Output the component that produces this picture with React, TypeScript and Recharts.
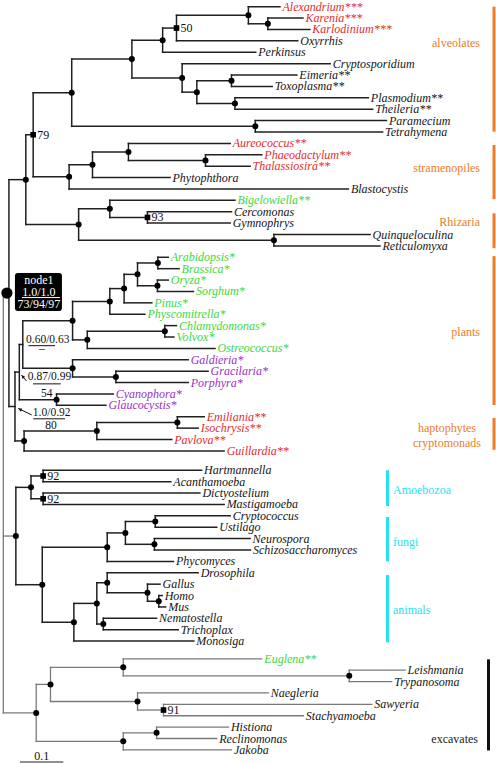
import { ReferenceLine, Scatter, ScatterChart, XAxis, YAxis } from "recharts";

// Tips, listed top to bottom.
const leafNames = [
  "Alexandrium", "Karenia", "Karlodinium", "Oxyrrhis", "Perkinsus", "Cryptosporidium",
  "Eimeria", "Toxoplasma", "Plasmodium", "Theileria", "Paramecium", "Tetrahymena",
  "Aureococcus", "Phaeodactylum", "Thalassiosira", "Phytophthora", "Blastocystis",
  "Bigelowiella", "Cercomonas", "Gymnophrys", "Quinqueloculina", "Reticulomyxa",
  "Arabidopsis", "Brassica", "Oryza", "Sorghum", "Pinus", "Physcomitrella",
  "Chlamydomonas", "Volvox", "Ostreococcus",
  "Galdieria", "Gracilaria", "Porphyra", "Cyanophora", "Glaucocystis",
  "Emiliania", "Isochrysis", "Pavlova", "Guillardia",
  "Hartmannella", "Acanthamoeba", "Dictyostelium", "Mastigamoeba",
  "Cryptococcus", "Ustilago", "Neurospora", "Schizosaccharomyces", "Phycomyces",
  "Drosophila", "Gallus", "Homo", "Mus", "Nematostella", "Trichoplax", "Monosiga",
  "Euglena", "Leishmania", "Trypanosoma", "Naegleria", "Sawyeria", "Stachyamoeba",
  "Histiona", "Reclinomonas", "Jakoba",
];

// distance from the root (substitutions/site) of each tip
const tipDepths = [
  0.639, 0.692, 0.708, 0.68, 0.583, 0.755, 0.678, 0.621, 0.843, 0.853, 0.885, 0.876,
  0.524, 0.597, 0.57, 0.385, 0.797,
  0.535, 0.527, 0.524, 0.847, 0.87,
  0.381, 0.406, 0.381, 0.439, 0.343, 0.327, 0.4, 0.394, 0.489,
  0.427, 0.473, 0.427, 0.254, 0.237,
  0.464, 0.45, 0.389, 0.51,
  0.458, 0.387, 0.454, 0.51,
  0.524, 0.493, 0.57, 0.571, 0.393,
  0.45, 0.362, 0.367, 0.375, 0.354, 0.404, 0.44,
  0.597, 0.928, 0.897, 0.612, 0.851, 0.693, 0.52, 0.493, 0.527,
];

// asterisks after each name
const tipStars = [
  3, 3, 3, 0, 0, 0, 2, 2, 2, 2, 0, 0,
  2, 2, 2, 0, 0,
  2, 0, 0, 0, 0,
  1, 1, 1, 1, 1, 1, 1, 1, 1,
  1, 1, 1, 1, 1,
  2, 2, 2, 2,
  0, 0, 0, 0,
  0, 0, 0, 0, 0,
  0, 0, 0, 0, 0, 0, 0,
  2, 0, 0, 0, 0, 0, 0, 0, 0,
];

// r = red, g = green, p = purple, k = black
const tipTints = "rrrkkkkkkkkkrrrkkgkkkkgggggggggppppprrrrkkkkkkkkkkkkkkkkgkkkkkkkk";

// [id, depth, children, bootstrap]; children come before their parents
type Clade = [string, number, string[], string?];
const clades: Clade[] = [
  ["dinoK", 0.611, ["Karenia", "Karlodinium"]],
  ["dino", 0.566, ["Alexandrium", "dinoK"]],
  ["dinoOx", 0.4, ["dino", "Oxyrrhis"], "50"],
  ["myzo", 0.368, ["dinoOx", "Perkinsus"]],
  ["cocc", 0.527, ["Eimeria", "Toxoplasma"]],
  ["piro", 0.535, ["Plasmodium", "Theileria"]],
  ["apiC", 0.447, ["cocc", "piro"]],
  ["api", 0.413, ["Cryptosporidium", "apiC"]],
  ["alvC", 0.297, ["myzo", "api"]],
  ["cil", 0.582, ["Paramecium", "Tetrahymena"]],
  ["alv", 0.158, ["alvC", "cil"]],
  ["diat", 0.467, ["Phaeodactylum", "Thalassiosira"]],
  ["ochro", 0.289, ["Aureococcus", "diat"]],
  ["strC", 0.206, ["ochro", "Phytophthora"]],
  ["str", 0.152, ["strC", "Blastocystis"]],
  ["sa", 0.069, ["alv", "str"], "79"],
  ["cerc", 0.333, ["Cercomonas", "Gymnophrys"], "93"],
  ["chlor", 0.246, ["Bigelowiella", "cerc"]],
  ["foram", 0.625, ["Quinqueloculina", "Reticulomyxa"]],
  ["rhiz", 0.174, ["chlor", "foram"]],
  ["sar", 0.052, ["sa", "rhiz"]],
  ["brass", 0.357, ["Arabidopsis", "Brassica"]],
  ["mono", 0.356, ["Oryza", "Sorghum"]],
  ["angio", 0.31, ["brass", "mono"]],
  ["seed", 0.279, ["angio", "Pinus"]],
  ["land", 0.246, ["seed", "Physcomitrella"]],
  ["volv", 0.373, ["Chlamydomonas", "Volvox"]],
  ["chloro", 0.194, ["volv", "Ostreococcus"]],
  ["green", 0.16, ["land", "chloro"]],
  ["gp", 0.26, ["Gracilaria", "Porphyra"]],
  ["red", 0.16, ["Galdieria", "gp"]],
  ["gr", 0.045, ["green", "red"]],
  ["glauco", 0.123, ["Cyanophora", "Glaucocystis"]],
  ["arch", 0.037, ["gr", "glauco"]],
  ["emil", 0.402, ["Emiliania", "Isochrysis"]],
  ["hapto", 0.216, ["emil", "Pavlova"]],
  ["hc", 0.048, ["hapto", "Guillardia"]],
  ["bik", 0.027, ["arch", "hc"]],
  ["node1", 0.013, ["sar", "bik"]],
  ["amA", 0.092, ["Hartmannella", "Acanthamoeba"], "92"],
  ["amB", 0.092, ["Dictyostelium", "Mastigamoeba"], "92"],
  ["amoeb", 0.064, ["amA", "amB"]],
  ["basid", 0.351, ["Cryptococcus", "Ustilago"]],
  ["asco", 0.349, ["Neurospora", "Schizosaccharomyces"]],
  ["dik", 0.282, ["basid", "asco"]],
  ["fungi", 0.24, ["dik", "Phycomyces"]],
  ["mamm", 0.359, ["Homo", "Mus"]],
  ["vert", 0.333, ["Gallus", "mamm"]],
  ["bilat", 0.24, ["Drosophila", "vert"]],
  ["nt", 0.231, ["Nematostella", "Trichoplax"]],
  ["meta", 0.216, ["bilat", "nt"]],
  ["holo", 0.163, ["meta", "Monosiga"]],
  ["opis", 0.09, ["fungi", "holo"]],
  ["uni", 0.029, ["amoeb", "opis"]],
  ["tryp", 0.799, ["Leishmania", "Trypanosoma"]],
  ["eugl", 0.277, ["Euglena", "tryp"]],
  ["saw", 0.37, ["Sawyeria", "Stachyamoeba"], "91"],
  ["hetl", 0.31, ["Naegleria", "saw"]],
  ["disc", 0.109, ["eugl", "hetl"]],
  ["hr", 0.354, ["Histiona", "Reclinomonas"]],
  ["jak", 0.277, ["hr", "Jakoba"]],
  ["exc", 0.076, ["disc", "jak"]],
  ["root", 0, ["node1", "uni", "exc"]],
];

// posterior / bootstrap notes drawn beside three deep nodes
const noteClades = ["gr", "arch", "bik"];
const notePosteriors = ["0.60/0.63", "0.87/0.99", "1.0/0.92"];
const noteBootstraps = ["\u2013", "54", "80"];

const groupNames = [
  "alveolates", "stramenopiles", "Rhizaria", "plants", "haptophytes\ncryptomonads",
  "Amoebozoa", "fungi", "animals", "excavates",
];
const groupKinds = ["o", "o", "o", "o", "o", "c", "c", "c", "k"];
const groupFirstRows = [0, 12.14, 18.14, 21.9, 36.1, 40.7, 44.8, 49.9, 57.3];
const groupLastRows = [10.97, 16.9, 21.2, 34.97, 38.9, 43.84, 48.7, 55.8, 65.3];
const groupLabelRows = [3.2, 14.2, 18.9, 28.6, 37.0, 42.4, 47.0, 53.0, 64.3];

// ---- layout ----
const W = 496;
const H = 764;
const PX_PER_UNIT = 433; // scale bar: 0.1 = 43.3px
const ROOT_PX = 3.3;
const ROW_PX = 11.39;
const TOP_PX = 6.7;
const toDepth = (px: number) => (px - ROOT_PX) / PX_PER_UNIT;
const toRow = (py: number) => (py - TOP_PX) / ROW_PX;
const xDomain = [toDepth(0), toDepth(W)];
const yDomain = [toRow(0), toRow(H)];

const SERIF = '"Liberation Serif", "Times New Roman", Times, serif';
const serif = { fontFamily: SERIF };
const INK = "#202020";
const GREY = "#7a7a7a";
const TINT: Record<string, string> = { r: "#e42c2c", g: "#3bd93b", p: "#982fc6", k: "#151515" };
const BAND: Record<string, string> = { o: "#ee7c2a", c: "#26e2ef", k: "#111111" };

const leafRow = (i: number) => i + (i >= 40 ? 0.7 : 0) + (i >= 56 ? 0.55 : 0);

const pos: Record<string, { x: number; y: number }> = {};
leafNames.forEach((n, i) => (pos[n] = { x: tipDepths[i], y: leafRow(i) }));
clades.forEach(([id, depth, kids]) => {
  pos[id] = { x: depth, y: (pos[kids[0]].y + pos[kids[kids.length - 1]].y) / 2 };
});

const childrenOf: Record<string, string[]> = Object.fromEntries(clades.map((c) => [c[0], c[2]]));
const greyClades = new Set<string>(["root"]);
const markGrey = (id: string) => {
  greyClades.add(id);
  (childrenOf[id] ?? []).forEach(markGrey);
};
markGrey("exc");

const segments = clades.flatMap(([id, depth, kids]) => {
  const col = greyClades.has(id) ? GREY : INK;
  const first = pos[kids[0]];
  const last = pos[kids[kids.length - 1]];
  return [
    { key: id + "|", a: { x: depth, y: first.y }, b: { x: depth, y: last.y }, col },
    ...kids.map((k) => ({
      key: id + ">" + k,
      a: { x: depth, y: pos[k].y },
      b: { x: pos[k].x, y: pos[k].y },
      col,
    })),
  ];
});

const markers = clades.map(([id, , , support]) => ({
  x: pos[id].x,
  y: pos[id].y,
  id,
  support,
  kind:
    id === "node1" ? "big" : support ? "square" : ["root", "gr", "arch", "bik"].includes(id) ? "none" : "dot",
}));

const tipLabels = leafNames.map((n, i) => ({
  x: tipDepths[i],
  y: leafRow(i),
  text: n + "*".repeat(tipStars[i]),
  color: TINT[tipTints[i]],
}));

const notes = noteClades.map((id, i) => ({ x: pos[id].x, y: pos[id].y, i }));

const groupLabels = groupNames.map((name, i) => {
  const lines = name.split("\n");
  const kind = groupKinds[i];
  let px = 480;
  let anchor = "end";
  if (kind === "c") {
    px = 393;
    anchor = "start";
  } else if (lines.length > 1) {
    px = 447;
    anchor = "middle";
  } else if (kind === "k") {
    px = 478;
  }
  return { x: toDepth(px), y: groupLabelRows[i], lines, anchor, color: kind === "k" ? "#1a1a1a" : BAND[kind] };
});

const bandX: Record<string, number> = { o: toDepth(494), c: toDepth(387.5), k: toDepth(488.5) };

const scaleStart = toDepth(20);
const scaleRow = toRow(762);

// pixel offsets of the note pieces, relative to the node
const noteLayout = [
  { num: [25, -1], bar: [5.6, 32.3, 1.2], den: [19, 7.8], arrow: null },
  { num: [30.2, 8], bar: [13.7, 41.4, 11.8], den: [27.4, 24.5], arrow: [7.2, 9, 2.2, 3] },
  { num: [36.7, 9.5], bar: [18.3, 50, 12.3], den: [36, 22.5], arrow: [16.7, 8.4, 3.3, 2] },
];

function TipLabel(p: any) {
  const { cx, cy, payload } = p;
  return (
    <text x={cx + 2.5} y={cy + 4} style={{ ...serif, fontStyle: "italic", fontSize: 12 }} fill={payload.color}>
      {payload.text}
    </text>
  );
}

function GroupLabel(p: any) {
  const { cx, cy, payload } = p;
  return (
    <text x={cx} y={cy + 4} style={{ ...serif, fontSize: 12 }} fill={payload.color} textAnchor={payload.anchor}>
      {payload.lines.map((l: string, k: number) => (
        <tspan key={k} x={cx} dy={k === 0 ? 0 : 15}>
          {l}
        </tspan>
      ))}
    </text>
  );
}

function NodeMark(p: any) {
  const { cx, cy, payload } = p;
  if (payload.kind === "dot") return <circle cx={cx} cy={cy} r={3} fill="#000" />;
  if (payload.kind === "square")
    return (
      <g>
        <rect x={cx - 2.8} y={cy - 2.8} width={5.6} height={5.6} fill="#000" />
        <text x={cx + 4} y={cy + 4} style={{ ...serif, fontSize: 12 }} fill="#111">
          {payload.support}
        </text>
      </g>
    );
  if (payload.kind === "big")
    return (
      <g>
        <circle cx={cx - 2} cy={cy} r={5.6} fill="#000" />
        <rect x={cx + 6} y={cy - 20} width={47} height={38} rx={3} fill="#000" />
        <g style={{ ...serif, fontSize: 12 }} fill="#fff" textAnchor="middle">
          <text x={cx + 30} y={cy - 9}>node1</text>
          <text x={cx + 30} y={cy + 2.5}>1.0/1.0</text>
          <text x={cx + 30} y={cy + 15}>73/94/97</text>
        </g>
        <line x1={cx + 13} x2={cx + 51} y1={cy + 4.5} y2={cy + 4.5} stroke="#fff" strokeWidth={1} />
      </g>
    );
  return <g />;
}

function NoteMark(p: any) {
  const { cx, cy, payload } = p;
  const L = noteLayout[payload.i];
  const a = L.arrow;
  let head = null;
  if (a) {
    const [x0, y0, x1, y1] = a;
    const ang = Math.atan2(y1 - y0, x1 - x0);
    const tx = cx + x1;
    const ty = cy + y1;
    const s = 4;
    head = (
      <g>
        <line x1={cx + x0} y1={cy + y0} x2={tx} y2={ty} stroke="#111" strokeWidth={1} />
        <polygon
          points={`${tx},${ty} ${tx - s * Math.cos(ang - 0.45)},${ty - s * Math.sin(ang - 0.45)} ${
            tx - s * Math.cos(ang + 0.45)
          },${ty - s * Math.sin(ang + 0.45)}`}
          fill="#111"
        />
      </g>
    );
  }
  return (
    <g style={{ ...serif, fontSize: 11.5 }} fill="#111" textAnchor="middle">
      <text x={cx + L.num[0]} y={cy + L.num[1]}>{notePosteriors[payload.i]}</text>
      <line
        x1={cx + L.bar[0]}
        x2={cx + L.bar[1]}
        y1={cy + L.bar[2]}
        y2={cy + L.bar[2]}
        stroke="#111"
        strokeWidth={1}
      />
      <text x={cx + L.den[0]} y={cy + L.den[1]}>{noteBootstraps[payload.i]}</text>
      {head}
    </g>
  );
}

function ScaleLabel(p: any) {
  const { cx, cy } = p;
  return (
    <text x={cx} y={cy + 4} style={{ ...serif, fontSize: 12 }} fill="#111" textAnchor="middle">
      0.1
    </text>
  );
}

export default function App() {
  return (
    <div
      style={{ position: "absolute", left: 0, top: 0, width: W, height: H, background: "#fff", fontFamily: SERIF }}
    >
      <ScatterChart width={W} height={H} margin={{ top: 0, right: 0, bottom: 0, left: 0 }}>
        <XAxis type="number" dataKey="x" domain={xDomain} allowDataOverflow hide />
        <YAxis type="number" dataKey="y" domain={yDomain} allowDataOverflow reversed hide />
        {segments.map((s) => (
          <ReferenceLine
            key={s.key}
            segment={[s.a, s.b]}
            stroke={s.col}
            strokeWidth={s.col === GREY ? 1.3 : 1.5}
            strokeLinecap="square"
            ifOverflow="visible"
          />
        ))}
        {groupNames.map((name, i) => (
          <ReferenceLine
            key={"band-" + name}
            segment={[
              { x: bandX[groupKinds[i]], y: groupFirstRows[i] },
              { x: bandX[groupKinds[i]], y: groupLastRows[i] },
            ]}
            stroke={BAND[groupKinds[i]]}
            strokeWidth={3}
            ifOverflow="visible"
          />
        ))}
        <ReferenceLine
          segment={[
            { x: scaleStart, y: scaleRow },
            { x: scaleStart + 0.1, y: scaleRow },
          ]}
          stroke="#222"
          strokeWidth={1.2}
          ifOverflow="visible"
        />
        <Scatter data={tipLabels} shape={TipLabel} isAnimationActive={false} />
        <Scatter data={groupLabels} shape={GroupLabel} isAnimationActive={false} />
        <Scatter data={markers} shape={NodeMark} isAnimationActive={false} />
        <Scatter data={notes} shape={NoteMark} isAnimationActive={false} />
        <Scatter
          data={[{ x: scaleStart + 0.05, y: toRow(755.5) }]}
          shape={ScaleLabel}
          isAnimationActive={false}
        />
      </ScatterChart>
    </div>
  );
}
